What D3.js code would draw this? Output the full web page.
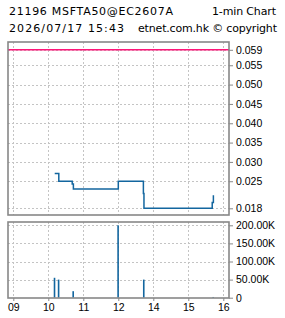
<!DOCTYPE html>
<html>
<head>
<meta charset="utf-8">
<script src="https://cdn.jsdelivr.net/npm/d3@7"></script>
<style>
  html, body { margin: 0; padding: 0; background: #fff; }
  svg { display: block; }
</style>
</head>
<body>
<svg id="chart" width="285" height="318"></svg>
<script>
// ---- data ----
const titleLeft = "21196 MSFTA50@EC2607A";
const titleRight = "1-min Chart";
const stampLeft = "2026/07/17 15:43";
const stampRight = "etnet.com.hk \u00A9 copyright";

const timeTickLabels = ["09", "10", "11", "12", "14", "15", "16"];
const priceTicks = [0.059, 0.055, 0.050, 0.045, 0.040, 0.035, 0.030, 0.025, 0.018];
const priceTickLabels = ["0.059", "0.055", "0.050", "0.045", "0.040", "0.035", "0.030", "0.025", "0.018"];
const volumeTicks = [0, 50000, 100000, 150000, 200000];
const volumeTickLabels = ["0", "50.00K", "100.00K", "150.00K", "200.00K"];

const prevClose = [0.059];

const priceTimes = ["10:11", "10:18", "10:41", "10:43", "13:00", "13:43", "13:44", "15:41", "15:43"];
const prices = [0.027, 0.025, 0.0243, 0.023, 0.025, 0.0218, 0.018, 0.0195, 0.0214];

const volumeTimes = ["10:11", "10:18", "10:43", "13:00", "13:44", "15:43"];
const volumes = [55000, 50000, 18000, 200000, 50000, 2000];

// ---- helpers ----
// trading-hour position: 09:00 -> 0, lunch (12:00-13:00) collapsed
function tpos(s) {
  const [h, m] = s.split(":").map(Number);
  let t = h + m / 60;
  if (t >= 13) t -= 1;
  return t - 9;
}

const svg = d3.select("#chart");
const frameL = 8, frameR = 229;
const mainTop = 42, mainBot = 215;
const volTop = 222, volBot = 298;

const x = d3.scaleLinear().domain([0, 6]).range([13.3, 223.3]);
const y = d3.scaleLinear().domain([0.018, 0.059]).range([208.3, 49.8]);
const yv = d3.scaleLinear().domain([0, 200000]).range([297.7, 225.3]);

const gridColor = "#c4c4c4";
const frameColor = "#888888";
const blue = "#13669f";
const pink = "#ff1478";
const txtFont = "DejaVu Sans, Verdana, sans-serif";
const axFont = "Liberation Sans, Arial, sans-serif";

// ---- header text ----
const hdr = svg.append("g").attr("font-family", txtFont).attr("font-size", 11).attr("fill", "#000");
hdr.append("text").attr("x", 9).attr("y", 15).attr("textLength", 164).attr("lengthAdjust", "spacing").text(titleLeft);
hdr.append("text").attr("x", 276).attr("y", 15).attr("text-anchor", "end").attr("textLength", 64).attr("lengthAdjust", "spacing").text(titleRight);
hdr.append("text").attr("x", 9).attr("y", 32).attr("textLength", 115).attr("lengthAdjust", "spacing").text(stampLeft);
hdr.append("text").attr("x", 277).attr("y", 32).attr("text-anchor", "end").attr("textLength", 139).attr("lengthAdjust", "spacing").text(stampRight);

// ---- grids ----
function vgrid(top, bot) {
  svg.append("g").selectAll("line").data(d3.range(timeTickLabels.length)).join("line")
    .attr("x1", d => Math.round(x(d)) + 0.5).attr("x2", d => Math.round(x(d)) + 0.5)
    .attr("y1", top).attr("y2", bot)
    .attr("stroke", gridColor).attr("stroke-dasharray", "2,2");
}
vgrid(mainTop, mainBot);
vgrid(volTop, volBot);

svg.append("g").selectAll("line").data(priceTicks).join("line")
  .attr("x1", frameL).attr("x2", frameR)
  .attr("y1", d => Math.round(y(d)) + 0.5).attr("y2", d => Math.round(y(d)) + 0.5)
  .attr("stroke", gridColor).attr("stroke-dasharray", "2,2");

svg.append("g").selectAll("line").data(volumeTicks.filter(v => v > 0)).join("line")
  .attr("x1", frameL).attr("x2", frameR)
  .attr("y1", d => Math.round(yv(d)) + 0.5).attr("y2", d => Math.round(yv(d)) + 0.5)
  .attr("stroke", gridColor).attr("stroke-dasharray", "2,2");

// ---- previous close line ----
svg.append("g").selectAll("line").data(prevClose).join("line")
  .attr("x1", frameL).attr("x2", frameR)
  .attr("y1", d => y(d)).attr("y2", d => y(d))
  .attr("stroke", pink).attr("stroke-width", 1.5);

// ---- price step line ----
const pts = priceTimes.map((t, i) => [tpos(t), prices[i]]);
const line = d3.line().x(d => x(d[0])).y(d => y(d[1])).curve(d3.curveStepAfter);
svg.append("path").datum(pts).attr("d", line)
  .attr("fill", "none").attr("stroke", blue).attr("stroke-width", 1.5);

// ---- volume bars ----
svg.append("g").selectAll("rect").data(volumeTimes.map((t, i) => [tpos(t), volumes[i]])).join("rect")
  .attr("x", d => x(d[0]) - 1).attr("width", 1.6)
  .attr("y", d => yv(d[1])).attr("height", d => yv(0) - yv(d[1]))
  .attr("fill", blue);

// ---- frames ----
function frame(top, bot) {
  svg.append("rect").attr("x", frameL).attr("y", top)
    .attr("width", frameR - frameL).attr("height", bot - top)
    .attr("fill", "none").attr("stroke", frameColor).attr("stroke-width", 1.6);
}
frame(mainTop, mainBot);
frame(volTop, volBot);

// ---- axes ----
const yAxis = d3.axisRight(y).tickValues(priceTicks).tickSize(4).tickPadding(3)
  .tickFormat((d, i) => priceTickLabels[i]);
const gy = svg.append("g").attr("transform", `translate(${frameR},0)`).call(yAxis);

const vAxis = d3.axisRight(yv).tickValues(volumeTicks).tickSize(4).tickPadding(3)
  .tickFormat((d, i) => volumeTickLabels[i]);
const gv = svg.append("g").attr("transform", `translate(${frameR},0)`).call(vAxis);

const xAxis = d3.axisBottom(x).tickValues(d3.range(timeTickLabels.length)).tickSize(3).tickPadding(3)
  .tickFormat((d, i) => timeTickLabels[i]);
const gx = svg.append("g").attr("transform", `translate(0,${volBot})`).call(xAxis);

[gy, gv, gx].forEach(g => {
  g.select(".domain").remove();
  g.selectAll(".tick line").attr("stroke", frameColor);
  g.selectAll(".tick text").attr("fill", "#000").attr("font-family", axFont).attr("font-size", 10.5);
});
</script>
</body>
</html>
